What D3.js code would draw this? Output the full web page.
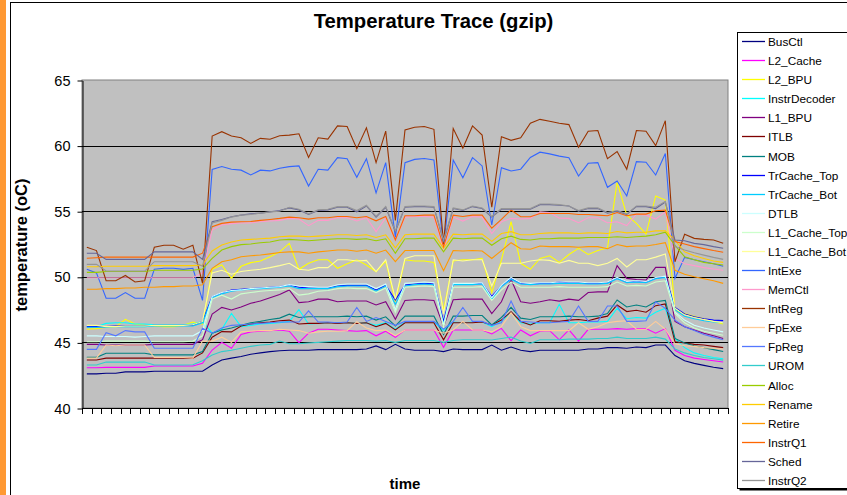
<!DOCTYPE html>
<html><head><meta charset="utf-8">
<script src="https://cdn.jsdelivr.net/npm/d3@7"></script>
<style>body{margin:0;background:#fff}svg{display:block}text{font-family:"Liberation Sans",Arial,sans-serif}</style>
</head><body><svg id="c" width="847" height="495"></svg>
<script>
const seriesNames = ["BusCtl","L2_Cache","L2_BPU","InstrDecoder","L1_BPU","ITLB","MOB","TrCache_Top","TrCache_Bot","DTLB","L1_Cache_Top","L1_Cache_Bot","IntExe","MemCtl","IntReg","FpExe","FpReg","UROM","Alloc","Rename","Retire","InstrQ1","Sched","InstrQ2"];
const seriesColors = ["#000080","#FF00FF","#FFFF00","#00FFFF","#800080","#800000","#008080","#0000FF","#00CCFF","#CCFFFF","#CCFFCC","#FFFF99","#3366FF","#FF99CC","#993300","#FFCC99","#5577FF","#33CCCC","#99CC00","#FFCC00","#FF9900","#FF6600","#666699","#969696"];
const yTicks = [40,45,50,55,60,65];

const BusCtl = [42.6,42.6,42.65,42.65,42.75,42.75,42.75,42.8,42.8,42.8,42.8,42.8, 42.8,
 43.28,43.66,43.8,43.92,44.1,44.2,44.3,44.36,
 44.4,44.4,44.4,44.45,44.45,44.45,44.45,44.45,44.5,44.73,
 44.45,44.85,44.5,44.4,44.4,44.4,44.3,44.5,44.45,44.45,
 44.45,44.8,44.4,44.65,44.4,44.3,44.4,44.4,44.4,44.4,
 44.4,44.5,44.5,44.6,44.6,44.55,44.65,44.6,44.8,44.8,
 44.0,43.6,43.4,43.25,43.1,43.0];
const L2_Cache = [43.07,43.07,43.1,43.1,43.1,43.1,43.1,43.2,43.2,43.2,43.2,43.2, 43.4,
 44.42,45.0,44.55,45.6,45.8,45.85,45.9,45.95,
 45.85,44.98,45.7,46.0,46.0,45.95,45.9,45.85,45.9,45.5,
 45.85,45.39,45.95,45.95,45.95,45.95,44.62,45.95,45.95,45.95,
 45.95,45.64,46.07,45.13,45.95,45.5,45.85,45.9,45.2,45.95,
 45.1,46.0,46.0,46.0,46.05,46.0,46.05,46.05,45.7,46.05,
 44.4,44.0,43.8,43.7,43.6,43.5];
const L2_BPU = [46.0,46.05,46.15,46.2,46.76,46.4,46.3,46.25,46.2,46.2,46.3,46.55, 46.4,
 50.57,50.9,49.88,50.8,51.08,51.2,51.53,51.9,
 52.55,50.57,51.03,51.3,51.3,50.65,51.0,51.3,50.9,50.39,
 51.2,48.1,51.3,51.2,51.2,51.1,47.47,51.2,51.3,51.3,
 51.4,48.8,51.28,54.2,51.03,50.57,51.4,51.6,51.1,51.7,
 52.17,51.7,52.0,52.2,57.2,54.7,54.07,53.26,56.16,55.85,
 47.47,47.2,47.0,46.8,46.6,46.4];
const InstrDecoder = [46.2,46.2,46.45,46.5,46.5,46.4,46.4,46.35,46.35,46.35,46.35,46.4, 46.6,
 45.7,46.0,47.2,46.2,46.3,46.4,46.45,46.5,
 46.6,47.5,46.4,46.45,46.5,46.5,46.5,46.45,46.5,46.3,
 46.5,46.0,46.55,46.55,46.55,46.55,45.9,46.55,46.5,46.55,
 46.55,46.2,46.6,47.3,46.5,46.4,46.5,46.5,47.9,46.5,
 46.5,46.55,46.55,46.6,47.6,46.8,46.9,46.85,47.3,47.6,
 45.3,44.6,44.2,44.0,43.85,43.75];
const L1_BPU = [44.85,44.85,44.8,44.8,44.8,44.8,44.8,44.85,44.85,44.85,44.85,44.85, 45.2,
 47.16,47.67,47.47,47.7,47.98,48.15,48.4,48.65,
 49.0,48.03,48.1,48.3,48.3,48.1,48.15,48.15,48.15,47.85,
 48.1,46.76,48.2,48.25,48.25,48.2,46.2,48.25,48.3,48.3,
 48.3,47.2,48.1,49.8,48.1,47.98,48.1,48.25,48.15,48.3,
 48.2,48.8,48.85,48.85,50.85,49.88,49.8,49.75,50.72,50.72,
 46.6,46.2,45.95,45.7,45.5,45.3];
const ITLB = [43.66,43.66,43.8,43.8,43.8,43.8,43.8,43.8,43.8,43.8,43.8,43.8, 44.2,
 45.4,45.82,45.8,46.25,46.4,46.5,46.55,46.65,
 46.7,46.4,46.45,46.45,46.5,46.45,46.5,46.45,46.5,46.2,
 46.45,45.95,46.5,46.5,46.5,46.5,45.2,46.5,46.5,46.5,
 46.55,46.33,46.7,47.34,46.6,46.33,46.65,46.65,46.6,46.7,
 46.75,46.65,46.85,47.0,47.85,47.35,47.45,47.3,47.8,47.93,
 45.05,44.95,44.85,44.8,44.7,44.6];
const MOB = [43.86,43.86,44.17,44.17,44.17,44.17,44.17,44.05,44.05,44.05,44.05,44.05, 44.3,
 45.7,45.95,46.1,46.3,46.5,46.6,46.75,46.85,
 47.15,46.9,46.95,46.95,46.95,46.95,47.0,46.95,47.0,46.7,
 46.95,46.25,47.0,47.0,47.0,47.0,45.6,47.0,47.0,47.05,
 47.05,46.33,46.9,47.67,46.85,46.75,46.95,46.95,46.95,47.0,
 46.95,46.95,47.0,47.2,48.23,47.7,47.85,47.7,48.1,48.2,
 45.3,44.95,44.75,44.6,44.45,44.3];
const TrCache_Top = [46.2,46.2,46.2,46.25,46.25,46.25,46.25,46.3,46.3,46.3,46.3,46.3, 46.6,
 48.49,48.76,49.0,49.05,49.1,49.15,49.2,49.25,
 49.37,49.2,49.15,49.15,49.15,49.3,49.35,49.35,49.35,49.0,
 49.35,48.23,49.37,49.45,49.5,49.45,46.6,49.45,49.45,49.45,
 49.5,48.5,49.3,49.88,49.5,49.45,49.5,49.5,49.6,49.55,
 49.55,49.5,49.5,49.55,49.9,49.6,49.65,49.6,49.9,50.0,
 47.67,47.17,46.95,46.8,46.7,46.66];
const TrCache_Bot = [46.15,46.15,46.15,46.2,46.2,46.2,46.2,46.25,46.25,46.25,46.25,46.25, 46.5,
 48.4,48.7,48.9,49.0,49.05,49.1,49.15,49.2,
 49.3,49.1,49.1,49.1,49.1,49.25,49.3,49.3,49.3,48.9,
 49.3,47.9,49.3,49.4,49.45,49.4,46.4,49.4,49.4,49.4,
 49.45,48.3,49.25,49.8,49.45,49.4,49.45,49.45,49.5,49.5,
 49.5,49.45,49.45,49.5,49.85,49.55,49.6,49.55,49.85,49.95,
 47.5,47.0,46.8,46.65,46.55,46.5];
const DTLB = [45.5,45.5,45.45,45.45,45.45,45.4,45.45,45.5,45.5,45.5,45.5,45.5, 45.9,
 48.5,48.8,48.95,49.0,49.1,49.15,49.2,49.25,
 49.4,49.3,49.25,49.2,49.2,49.4,49.45,49.45,49.45,49.1,
 49.45,47.5,49.5,49.55,49.6,49.55,46.3,49.5,49.5,49.5,
 49.55,48.4,49.35,49.95,49.55,49.5,49.55,49.55,49.6,49.6,
 49.6,49.55,49.55,49.6,49.95,49.65,49.7,49.65,49.95,50.05,
 47.3,46.7,46.3,46.1,45.95,45.8];
const L1_Cache_Top = [45.05,45.05,45.1,45.1,45.1,45.1,45.1,45.05,45.05,45.05,45.05,45.1, 45.5,
 48.3,48.6,48.3,48.7,48.8,48.9,48.95,49.0,
 49.1,48.6,48.7,48.9,48.95,49.1,49.15,49.1,49.1,48.8,
 49.15,47.3,49.2,49.25,49.3,49.25,46.1,49.2,49.2,49.2,
 49.25,48.2,49.0,49.6,49.2,49.2,49.2,49.2,49.25,49.2,
 49.2,49.2,49.2,49.25,49.6,49.3,49.35,49.3,49.6,49.7,
 47.2,46.5,46.1,45.85,45.7,45.55];
const L1_Cache_Bot = [46.3,46.3,46.2,46.2,46.25,46.25,46.25,46.3,46.3,46.3,46.3,46.35, 46.6,
 50.3,50.5,50.2,50.4,50.5,50.57,50.7,50.85,
 51.03,50.57,50.5,50.7,50.7,51.3,51.3,51.2,51.25,50.39,
 51.3,48.3,51.4,51.6,51.6,51.6,47.2,51.3,51.2,51.3,
 51.3,49.3,51.03,51.03,51.03,51.2,51.3,51.25,51.03,51.25,
 51.03,51.03,50.85,51.03,51.4,50.75,51.3,51.3,51.5,51.74,
 47.6,47.1,46.9,46.75,46.6,46.5];
const IntExe = [50.57,50.3,48.36,48.36,48.8,48.36,48.36,50.57,50.65,50.65,50.57,50.65, 48.2,
 58.19,58.4,58.2,58.13,57.76,58.13,58.07,58.27,
 58.4,58.45,56.92,58.2,58.13,59.08,59.0,57.58,59.0,56.4,
 58.7,53.0,58.7,58.95,59.02,58.9,52.3,58.9,57.55,59.08,
 58.45,53.95,58.32,58.07,58.2,59.1,59.5,59.37,59.2,59.08,
 57.68,58.65,58.7,56.82,57.3,56.16,58.78,58.73,57.76,59.4,
 49.88,51.48,51.3,51.15,51.0,50.8];
const MemCtl = [49.93,49.93,49.93,49.93,49.93,49.93,49.93,49.93,49.93,49.93,49.93,49.93, 50.3,
 53.57,53.95,54.05,54.1,54.1,54.2,54.25,54.3,
 54.45,54.4,53.9,54.3,54.3,54.5,54.5,54.25,54.5,53.44,
 54.5,52.8,54.55,54.6,54.6,54.55,52.1,54.55,54.25,54.6,
 54.55,53.3,54.2,54.45,54.4,54.45,54.96,54.9,54.47,54.45,
 54.12,54.5,54.5,54.12,54.2,53.9,54.77,54.7,54.4,54.96,
 51.4,51.0,50.85,50.7,50.6,50.5];
const IntReg = [52.25,52.0,49.7,49.7,50.1,49.6,49.7,52.25,52.4,52.4,52.1,52.4, 49.5,
 60.73,61.06,60.73,60.6,60.17,60.55,60.48,60.75,
 60.8,60.9,59.1,60.6,60.5,61.5,61.45,59.77,61.35,58.7,
 61.1,54.3,61.2,61.4,61.45,61.24,52.5,61.3,59.8,61.5,
 60.8,55.3,60.68,60.4,60.6,61.7,62.0,61.85,61.7,61.6,
 59.87,61.1,61.15,59.0,59.55,58.2,61.15,61.1,60.0,61.9,
 51.15,53.24,52.93,52.85,52.8,52.55];
const FpExe = [43.8,43.8,44.8,44.75,44.8,44.8,44.8,43.85,43.85,43.85,43.85,43.8, 45.1,
 45.1,45.4,45.0,45.8,45.85,45.9,45.9,46.0,
 45.95,45.9,45.7,45.8,45.85,45.85,45.9,46.58,46.1,45.9,
 45.95,45.5,45.95,45.95,45.95,45.95,45.7,45.95,46.6,45.95,
 45.95,45.8,46.2,47.27,46.2,45.9,45.9,45.9,45.9,45.9,
 46.5,46.0,46.2,46.5,46.6,46.65,46.0,46.0,46.6,46.0,
 44.9,44.75,44.7,44.6,44.55,44.5];
const FpReg = [44.47,44.47,45.74,45.5,45.9,45.8,45.8,44.55,44.55,44.55,44.55,44.55, 46.07,
 45.7,46.1,46.3,46.35,46.4,46.45,46.5,46.55,
 46.55,46.55,47.4,46.55,46.55,46.5,46.55,47.67,46.6,46.9,
 46.6,46.3,46.6,46.6,46.6,46.6,46.0,46.6,47.67,46.6,
 46.6,46.3,46.5,48.15,46.6,46.55,46.5,46.5,46.55,46.6,
 47.77,46.6,46.6,47.77,47.77,46.6,46.6,46.65,48.1,47.6,
 46.7,46.2,45.9,45.6,45.4,45.2];
const UROM = [43.28,43.28,43.5,43.5,43.5,43.5,43.5,43.28,43.28,43.28,43.28,43.3, 43.6,
 44.04,44.3,44.4,44.55,44.7,44.8,44.85,45.1,
 44.9,44.9,44.95,45.0,45.05,45.1,45.15,45.15,45.15,45.1,
 45.15,45.0,45.15,45.15,45.15,45.15,45.0,45.15,45.2,45.2,
 45.2,45.18,45.3,45.4,45.1,44.93,45.2,45.2,45.2,45.25,
 45.25,45.25,45.3,45.3,45.4,45.3,45.3,45.3,45.4,45.25,
 44.5,44.2,44.0,43.85,43.75,43.65];
const Alloc = [50.34,50.34,50.4,50.4,50.4,50.4,50.4,50.5,50.5,50.5,50.5,50.5, 50.6,
 51.4,52.04,52.3,52.45,52.5,52.6,52.65,52.8,
 52.85,52.8,52.75,52.8,52.86,52.9,52.9,52.85,52.9,52.75,
 52.9,51.8,52.9,52.9,52.95,52.95,51.9,52.95,52.9,52.95,
 52.95,52.4,52.9,53.1,52.85,52.8,52.9,52.9,52.95,52.95,
 52.95,53.0,53.0,53.0,53.05,53.0,53.05,53.1,53.2,53.4,
 52.4,51.53,51.3,51.1,51.0,50.9];
const Rename = [50.77,50.77,50.8,50.8,50.8,50.8,50.8,50.85,50.85,50.85,50.85,50.85, 50.9,
 51.97,52.42,52.65,52.8,52.85,52.9,52.95,53.05,
 53.1,53.1,53.05,53.1,53.15,53.2,53.2,53.15,53.2,53.0,
 53.2,52.2,53.2,53.25,53.25,53.25,52.17,53.25,53.2,53.25,
 53.25,52.7,53.3,53.44,53.2,53.2,53.3,53.35,53.35,53.35,
 53.3,53.35,53.35,53.3,53.45,53.35,53.4,53.4,53.5,53.5,
 52.8,51.9,51.6,51.4,51.2,51.1];
const Retire = [49.05,49.05,49.1,49.1,49.15,49.15,49.2,49.2,49.25,49.25,49.3,49.3, 49.4,
 50.65,51.15,51.3,51.53,51.6,51.66,51.75,51.85,
 51.9,51.9,51.8,51.9,51.97,52.04,52.04,51.95,52.04,51.8,
 52.04,51.15,52.0,52.0,52.0,52.0,50.47,52.0,51.97,52.0,
 51.97,51.4,52.0,52.6,52.14,52.1,52.35,52.3,52.3,52.3,
 52.25,52.3,52.3,52.14,52.46,52.3,52.35,52.35,52.46,52.6,
 50.5,50.2,50.0,49.85,49.7,49.5];
const InstrQ1 = [51.41,51.45,51.5,51.5,51.5,51.5,51.5,51.5,51.5,51.5,51.5,51.5, 51.8,
 53.82,54.07,54.17,54.2,54.22,54.3,54.37,54.45,
 54.55,54.5,54.4,54.5,54.5,54.6,54.6,54.5,54.6,54.27,
 54.6,52.8,54.65,54.65,54.7,54.7,52.3,54.7,54.6,54.7,
 54.7,53.7,54.37,55.09,54.58,54.58,54.83,54.83,54.83,54.83,
 54.75,54.75,54.7,54.65,54.9,54.65,54.78,54.78,55.04,55.09,
 52.68,52.5,52.3,52.15,52.0,51.87];
const Sched = [51.79,51.79,51.33,51.33,51.33,51.33,51.33,51.9,51.9,51.9,51.9,51.9, 51.33,
 54.2,54.37,54.58,54.7,54.8,54.85,54.95,55.05,
 55.25,55.1,54.75,55.05,55.1,55.3,55.3,54.95,55.4,54.55,
 55.3,53.45,55.3,55.35,55.35,55.3,52.7,55.2,55.05,55.35,
 55.2,54.55,55.15,55.15,55.15,55.15,55.5,55.5,55.45,55.4,
 55.0,55.2,55.2,54.85,55.0,54.75,55.35,55.35,55.2,55.7,
 52.8,52.75,52.55,52.45,52.3,52.17];
const InstrQ2 = [50.95,50.95,50.44,50.44,50.44,50.44,50.44,51.15,51.15,51.15,51.15,51.15, 50.8,
 54.1,54.3,54.55,54.7,54.75,54.85,54.95,55.0,
 55.3,55.15,54.8,55.1,55.15,55.35,55.35,55.05,55.45,54.6,
 55.35,53.5,55.35,55.4,55.4,55.35,52.8,55.25,55.1,55.4,
 55.25,54.6,55.2,55.2,55.2,55.2,55.55,55.55,55.5,55.4,
 55.05,55.25,55.25,54.9,55.05,54.8,55.4,55.4,55.3,55.75,
 52.3,52.04,51.83,51.65,51.48,51.33];

const seriesValues = [BusCtl,L2_Cache,L2_BPU,InstrDecoder,L1_BPU,ITLB,MOB,TrCache_Top,TrCache_Bot,DTLB,L1_Cache_Top,L1_Cache_Bot,IntExe,MemCtl,IntReg,FpExe,FpReg,UROM,Alloc,Rename,Retire,InstrQ1,Sched,InstrQ2];
const categories = d3.range(BusCtl.length);

const svg = d3.select("#c");
const P = {l:82, r:728, t:80, b:408};

svg.append("rect").attr("x",0).attr("y",0).attr("width",847).attr("height",495).attr("fill","#fff");
svg.append("rect").attr("x",0).attr("y",0).attr("width",6).attr("height",495).attr("fill","#FF9933");
svg.append("rect").attr("x",10.5).attr("y",2.5).attr("width",900).attr("height",600)
  .attr("fill","none").attr("stroke","#000").attr("stroke-width",1);

const x = d3.scaleBand().domain(categories).range([P.l,P.r]);
const y = d3.scaleLinear().domain([40,65]).range([P.b,P.t]);

svg.append("rect").attr("x",P.l).attr("y",P.t).attr("width",P.r-P.l).attr("height",P.b-P.t)
  .attr("fill","#C0C0C0").attr("stroke","#808080").attr("stroke-width",1);

// gridlines
svg.append("g").selectAll("line").data(yTicks.filter(v=>v>40&&v<65)).join("line")
  .attr("x1",P.l).attr("x2",P.r).attr("y1",d=>Math.round(y(d))+0.5).attr("y2",d=>Math.round(y(d))+0.5)
  .attr("stroke","#000").attr("stroke-width",1);

// y axis
const ya = svg.append("g").attr("transform",`translate(${P.l+0.5},0.5)`)
  .call(d3.axisLeft(y).tickValues(yTicks).tickSize(5).tickPadding(7).tickSizeOuter(0));
ya.select(".domain").attr("stroke","#000");
ya.selectAll("text").attr("font-size","14.5px").attr("fill","#000").attr("font-family","Liberation Sans, Arial, sans-serif");

// x axis line and ticks at category boundaries
svg.append("line").attr("x1",P.l).attr("x2",P.r).attr("y1",P.b+0.5).attr("y2",P.b+0.5).attr("stroke","#000");
const bounds = categories.map(c=>x(c)).concat([x(categories[categories.length-1])+x.bandwidth()]);
svg.append("g").selectAll("line").data(bounds).join("line")
  .attr("x1",d=>Math.round(d)+0.5).attr("x2",d=>Math.round(d)+0.5)
  .attr("y1",P.b).attr("y2",P.b+6).attr("stroke","#000");

// lines
const line = d3.line().x((d,i)=>x(categories[i])+x.bandwidth()/2).y(d=>y(d));
svg.append("g").selectAll("path").data(seriesValues).join("path")
  .attr("d",d=>line(d)).attr("fill","none")
  .attr("stroke",(d,i)=>seriesColors[i]).attr("stroke-width",1.1);

// titles
svg.append("text").attr("x",433.5).attr("y",28).attr("text-anchor","middle")
  .attr("font-size","20.3px").attr("font-weight","bold").text("Temperature Trace (gzip)");
svg.append("text").attr("x",405).attr("y",489).attr("text-anchor","middle")
  .attr("font-size","15px").attr("font-weight","bold").text("time");
svg.append("text").attr("transform","translate(27,245) rotate(-90)").attr("text-anchor","middle")
  .attr("font-size","16.5px").attr("font-weight","bold").text("temperature (oC)");

// legend
const L = {x:737.5, y:32.5, w:140, h:456};
svg.append("rect").attr("x",L.x+2).attr("y",L.y+2).attr("width",L.w).attr("height",L.h).attr("fill","#000");
svg.append("rect").attr("x",L.x).attr("y",L.y).attr("width",L.w).attr("height",L.h)
  .attr("fill","#fff").attr("stroke","#000").attr("stroke-width",1);
const ly = d3.scalePoint().domain(seriesNames).range([41,480]);
const lg = svg.append("g").selectAll("g").data(seriesNames).join("g")
  .attr("transform",d=>`translate(0,${Math.round(ly(d))+0.5})`);
lg.append("line").attr("x1",742).attr("x2",765).attr("y1",0).attr("y2",0)
  .attr("stroke",(d,i)=>seriesColors[i]).attr("stroke-width",1.3);
lg.append("text").attr("x",768).attr("y",4).attr("font-size","11.8px").text(d=>d);
</script></body></html>
